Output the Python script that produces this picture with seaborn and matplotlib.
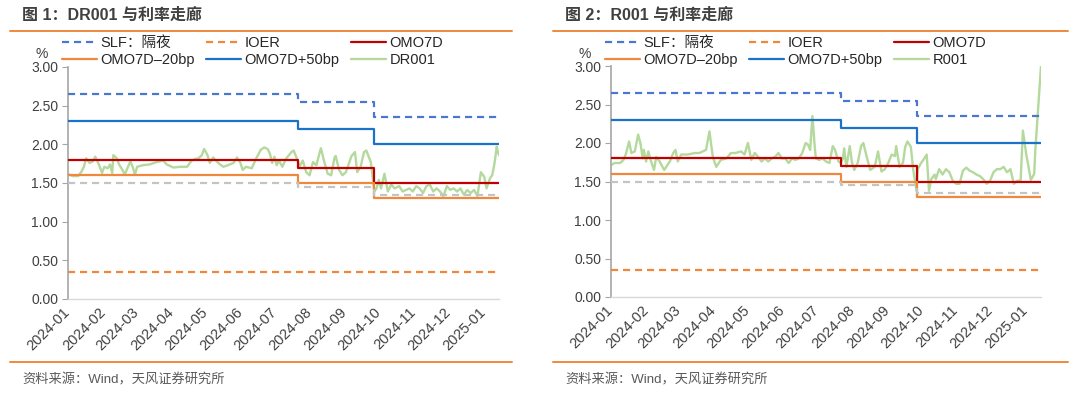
import pandas as pd
import matplotlib
matplotlib.use('Agg')
import matplotlib.pyplot as plt
from matplotlib.lines import Line2D
import seaborn as sns

sns.set_style('white')
plt.rcParams['font.family'] = ['Liberation Sans', 'Noto Sans CJK SC']
plt.rcParams['axes.unicode_minus'] = False

# policy rate corridor (step changes)
step_dates = ['2024-01-01', '2024-07-22', '2024-09-27', '2025-01-15']
slf = [2.65, 2.55, 2.35, 2.35]
ioer = [0.35, 0.35, 0.35, 0.35]
omo7d = [1.80, 1.70, 1.50, 1.50]
omo_minus20 = [1.60, 1.50, 1.30, 1.30]
omo_plus50 = [2.30, 2.20, 2.00, 2.00]
grey_line = [1.50, 1.45, 1.35, 1.35]

dr001_dates = [
    '2024-01-02', '2024-01-05', '2024-01-10', '2024-01-13', '2024-01-15',
    '2024-01-17', '2024-01-20', '2024-01-23', '2024-01-25', '2024-01-27',
    '2024-01-29', '2024-01-31', '2024-02-02', '2024-02-05', '2024-02-07',
    '2024-02-09', '2024-02-10', '2024-02-13', '2024-02-15', '2024-02-18',
    '2024-02-20', '2024-02-23', '2024-02-25', '2024-02-27', '2024-02-29',
    '2024-03-02', '2024-03-07', '2024-03-13', '2024-03-19', '2024-03-25',
    '2024-03-28', '2024-04-03', '2024-04-09', '2024-04-15', '2024-04-19',
    '2024-04-22', '2024-04-25', '2024-04-28', '2024-04-30', '2024-05-03',
    '2024-05-05', '2024-05-08', '2024-05-11', '2024-05-14', '2024-05-17',
    '2024-05-21', '2024-05-26', '2024-05-29', '2024-06-01', '2024-06-03',
    '2024-06-06', '2024-06-11', '2024-06-15', '2024-06-19', '2024-06-22',
    '2024-06-25', '2024-06-27', '2024-06-29', '2024-07-01', '2024-07-03',
    '2024-07-05', '2024-07-08', '2024-07-11', '2024-07-16', '2024-07-18',
    '2024-07-22', '2024-07-23', '2024-07-26', '2024-07-29', '2024-08-01',
    '2024-08-04', '2024-08-07', '2024-08-10', '2024-08-11', '2024-08-14',
    '2024-08-17', '2024-08-20', '2024-08-23', '2024-08-24', '2024-08-27',
    '2024-08-30', '2024-09-02', '2024-09-07', '2024-09-10', '2024-09-12',
    '2024-09-15', '2024-09-18', '2024-09-20', '2024-09-24', '2024-09-27',
    '2024-09-29', '2024-10-01', '2024-10-03', '2024-10-06', '2024-10-09',
    '2024-10-12', '2024-10-15', '2024-10-19', '2024-10-22', '2024-10-25',
    '2024-10-28', '2024-10-31', '2024-11-03', '2024-11-06', '2024-11-09',
    '2024-11-12', '2024-11-15', '2024-11-18', '2024-11-21', '2024-11-24',
    '2024-11-27', '2024-11-30', '2024-12-03', '2024-12-06', '2024-12-09',
    '2024-12-12', '2024-12-15', '2024-12-18', '2024-12-21', '2024-12-24',
    '2024-12-27', '2024-12-30', '2025-01-02', '2025-01-04', '2025-01-07',
    '2025-01-09', '2025-01-11', '2025-01-13', '2025-01-14', '2025-01-15']
dr001 = [
    1.61, 1.59, 1.59, 1.65, 1.71, 1.82, 1.76, 1.78, 1.84, 1.78,
    1.71, 1.63, 1.71, 1.69, 1.74, 1.63, 1.86, 1.82, 1.74, 1.67,
    1.61, 1.71, 1.78, 1.71, 1.61, 1.71, 1.73, 1.74, 1.77, 1.79,
    1.74, 1.70, 1.71, 1.71, 1.79, 1.81, 1.82, 1.86, 1.94, 1.86,
    1.76, 1.83, 1.78, 1.74, 1.71, 1.73, 1.76, 1.83, 1.76, 1.67,
    1.71, 1.69, 1.82, 1.93, 1.96, 1.94, 1.88, 1.76, 1.84, 1.73,
    1.79, 1.71, 1.81, 1.90, 1.92, 1.77, 1.71, 1.79, 1.64, 1.60,
    1.77, 1.73, 1.90, 1.95, 1.77, 1.62, 1.60, 1.83, 1.85, 1.67,
    1.60, 1.64, 1.85, 1.90, 1.64, 1.71, 1.90, 1.92, 1.77, 1.39,
    1.43, 1.54, 1.43, 1.62, 1.39, 1.48, 1.43, 1.46, 1.39, 1.41,
    1.43, 1.39, 1.46, 1.43, 1.37, 1.46, 1.48, 1.39, 1.43, 1.39,
    1.33, 1.46, 1.41, 1.43, 1.39, 1.43, 1.35, 1.41, 1.37, 1.41,
    1.33, 1.64, 1.58, 1.43, 1.56, 1.60, 1.75, 1.97, 1.90, 1.86]

r001_dates = [
    '2024-01-02', '2024-01-04', '2024-01-09', '2024-01-12', '2024-01-14',
    '2024-01-17', '2024-01-19', '2024-01-22', '2024-01-25', '2024-01-27',
    '2024-01-29', '2024-01-30', '2024-02-01', '2024-02-03', '2024-02-05',
    '2024-02-08', '2024-02-10', '2024-02-13', '2024-02-17', '2024-02-22',
    '2024-02-25', '2024-02-27', '2024-02-29', '2024-03-03', '2024-03-09',
    '2024-03-15', '2024-03-19', '2024-03-25', '2024-03-28', '2024-03-31',
    '2024-04-03', '2024-04-07', '2024-04-12', '2024-04-16', '2024-04-20',
    '2024-04-25', '2024-04-28', '2024-05-01', '2024-05-04', '2024-05-07',
    '2024-05-10', '2024-05-13', '2024-05-16', '2024-05-19', '2024-05-22',
    '2024-05-25', '2024-05-28', '2024-05-31', '2024-06-03', '2024-06-06',
    '2024-06-09', '2024-06-12', '2024-06-15', '2024-06-18', '2024-06-21',
    '2024-06-23', '2024-06-25', '2024-06-27', '2024-06-29', '2024-06-30',
    '2024-07-03', '2024-07-06', '2024-07-09', '2024-07-12', '2024-07-15',
    '2024-07-17', '2024-07-20', '2024-07-22', '2024-07-24', '2024-07-25',
    '2024-07-27', '2024-07-30', '2024-08-01', '2024-08-03', '2024-08-06',
    '2024-08-09', '2024-08-11', '2024-08-14', '2024-08-17', '2024-08-21',
    '2024-08-24', '2024-08-27', '2024-08-30', '2024-09-02', '2024-09-05',
    '2024-09-08', '2024-09-09', '2024-09-12', '2024-09-15', '2024-09-17',
    '2024-09-19', '2024-09-22', '2024-09-24', '2024-09-27', '2024-09-28',
    '2024-10-01', '2024-10-03', '2024-10-06', '2024-10-08', '2024-10-10',
    '2024-10-13', '2024-10-14', '2024-10-17', '2024-10-20', '2024-10-23',
    '2024-10-26', '2024-10-29', '2024-11-01', '2024-11-04', '2024-11-07',
    '2024-11-10', '2024-11-13', '2024-11-16', '2024-11-19', '2024-11-22',
    '2024-11-25', '2024-11-28', '2024-12-01', '2024-12-04', '2024-12-07',
    '2024-12-10', '2024-12-13', '2024-12-16', '2024-12-19', '2024-12-22',
    '2024-12-25', '2024-12-28', '2024-12-30', '2025-01-02', '2025-01-04',
    '2025-01-06', '2025-01-09', '2025-01-10', '2025-01-13', '2025-01-15']
r001 = [
    1.72, 1.74, 1.74, 1.78, 1.85, 2.02, 1.87, 1.89, 2.11, 2.00,
    1.80, 1.91, 1.76, 1.89, 1.78, 1.65, 1.82, 1.76, 1.65, 1.76,
    1.87, 1.91, 1.76, 1.85, 1.85, 1.87, 1.87, 1.91, 2.15, 1.82,
    1.69, 1.78, 1.80, 1.87, 1.87, 1.89, 1.85, 2.00, 1.78, 1.87,
    1.82, 1.76, 1.80, 1.76, 1.80, 1.82, 1.87, 1.80, 1.80, 1.74,
    1.80, 1.78, 1.80, 1.87, 2.00, 1.98, 1.91, 2.35, 1.96, 1.80,
    1.78, 1.80, 1.76, 1.74, 1.96, 1.91, 1.76, 1.74, 1.80, 1.93,
    1.69, 1.96, 1.74, 1.65, 1.74, 1.96, 2.00, 1.82, 1.65, 1.69,
    1.89, 1.63, 1.66, 1.74, 1.85, 1.83, 1.96, 1.69, 1.74, 1.95,
    2.02, 1.95, 1.66, 1.38, 1.66, 1.74, 1.78, 1.85, 1.38, 1.53,
    1.59, 1.53, 1.66, 1.59, 1.66, 1.62, 1.51, 1.47, 1.47, 1.64,
    1.68, 1.64, 1.62, 1.59, 1.57, 1.53, 1.47, 1.51, 1.62, 1.66,
    1.66, 1.69, 1.62, 1.66, 1.47, 1.51, 1.51, 2.16, 1.85, 1.69,
    1.52, 1.60, 1.91, 2.56, 3.00]

month_ticks = ['2024-01', '2024-02', '2024-03', '2024-04', '2024-05',
               '2024-06', '2024-07', '2024-08', '2024-09', '2024-10',
               '2024-11', '2024-12', '2025-01']
y_ticks = [0.0, 0.5, 1.0, 1.5, 2.0, 2.5, 3.0]

ORANGE = '#F0883C'
TEXT = '#404040'


def draw_panel(fig, rect, title, title_x, rule_x, name, dates, values):
    ax = fig.add_axes(rect)
    steps = pd.to_datetime(step_dates)
    dash = (3.2, 2.2)
    sns.lineplot(x=pd.to_datetime(dates), y=values, ax=ax, color='#B4D99C',
                 linewidth=1.7, zorder=2)
    policy = [
        (slf, '#4A78D0', dash, 'SLF：隔夜'),
        (ioer, '#F0883C', dash, 'IOER'),
        (omo7d, '#C00000', None, 'OMO7D'),
        (omo_minus20, '#F0883C', None, 'OMO7D–20bp'),
        (omo_plus50, '#1A73C8', None, 'OMO7D+50bp'),
        (grey_line, '#C4C4C4', dash, None),
    ]
    handles = {}
    for vals, col, ds, lab in policy:
        sns.lineplot(x=steps, y=vals, ax=ax, color=col, linewidth=1.6,
                     drawstyle='steps-post', zorder=3)
        line = ax.get_lines()[-1]
        if ds is not None:
            line.set_dashes(ds)
        if lab is not None:
            handles[lab] = Line2D([], [], color=col, linewidth=1.6,
                                  dashes=ds if ds else (None, None))
    handles[name] = Line2D([], [], color='#B4D99C', linewidth=1.7)

    ax.set_xlim(pd.Timestamp('2024-01-01'), pd.Timestamp('2025-01-15'))
    ax.set_ylim(0, 3.0)
    ax.set_yticks(y_ticks)
    ax.set_yticklabels(['%.2f' % v for v in y_ticks])
    ax.set_xticks(pd.to_datetime([m + '-01' for m in month_ticks]))
    ax.set_xticklabels(month_ticks, rotation=45, ha='right', va='center',
                       rotation_mode='anchor')
    ax.tick_params(axis='y', length=4, width=0.8, color='#A6A6A6',
                   labelsize=10, labelcolor=TEXT, pad=3, left=True)
    ax.tick_params(axis='x', length=0, labelsize=10.5, labelcolor=TEXT,
                   pad=8)
    ax.set_xlabel('')
    ax.set_ylabel('')
    for s in ['top', 'right']:
        ax.spines[s].set_visible(False)
    ax.spines['left'].set_color('#A6A6A6')
    ax.spines['left'].set_linewidth(1.2)
    ax.spines['bottom'].set_color('#D9D9D9')
    ax.spines['bottom'].set_linewidth(1.0)

    order = ['SLF：隔夜', 'OMO7D–20bp', 'IOER', 'OMO7D+50bp', 'OMO7D', name]
    x_leg = rect[0] - 6 / 1080
    ax.legend([handles[k] for k in order], order, ncol=3, loc='upper left',
              bbox_to_anchor=(x_leg, 1 - 36 / 396),
              bbox_transform=fig.transFigure, frameon=False, fontsize=10.5,
              handlelength=2.4, handletextpad=0.25, columnspacing=0.75,
              labelspacing=0.2, borderpad=0, borderaxespad=0,
              labelcolor='#262626')

    fig.text(rect[0] - 26 / 1080, 1 - 54 / 396, '%', fontsize=10,
             color=TEXT, ha='center', va='center')
    fig.text(title_x, 1 - 15 / 396, title, fontsize=11.5, weight='bold',
             color=TEXT, ha='left', va='center')
    fig.text(title_x, 1 - 380 / 396, '资料来源：Wind，天风证券研究所',
             fontsize=9.5, color='#595959', ha='left', va='center')
    for yy in [31, 362]:
        fig.add_artist(Line2D(rule_x, [1 - yy / 396] * 2, color=ORANGE,
                              linewidth=1.4, transform=fig.transFigure))
    return ax


fig = plt.figure(figsize=(10.8, 3.96), dpi=100)
draw_panel(fig, [68 / 1080, 1 - 299 / 396, 431 / 1080, 232 / 396],
           '图 1：DR001 与利率走廊', 22 / 1080, [10 / 1080, 512 / 1080],
           'DR001', dr001_dates, dr001)
draw_panel(fig, [611 / 1080, 1 - 297 / 396, 430 / 1080, 231 / 396],
           '图 2：R001 与利率走廊', 565 / 1080, [553 / 1080, 1068 / 1080],
           'R001', r001_dates, r001)
fig.savefig('out.png', dpi=100, facecolor='white')
